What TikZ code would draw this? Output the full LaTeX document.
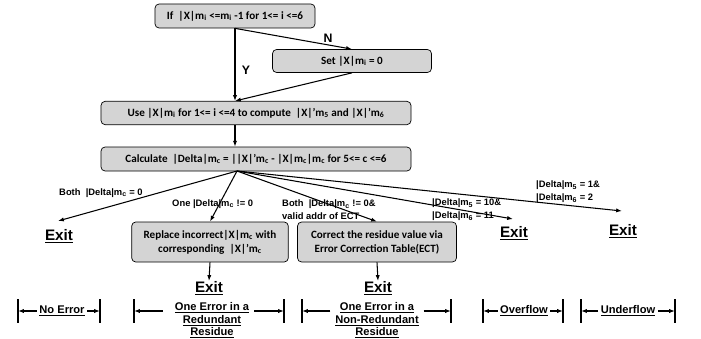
\documentclass[tikz,border=0pt]{standalone}
\usepackage{fontspec}
\setmainfont{Liberation Sans}
\newfontfamily\boxfont{Carlito}
\usepackage{tikz}
\usetikzlibrary{arrows.meta}
\definecolor{BoxGrey}{HTML}{D4D4D4}
\newcommand\lo[1]{\textsubscript{#1}}

\begin{document}
\begin{tikzpicture}[x=0.03cm,y=-0.03cm,>={Latex[length=5pt,width=3.6pt]},
    stepbox/.style={draw,line width=0.6pt,rounded corners=3.5pt,fill=BoxGrey,align=center,inner sep=0pt,
      font=\boxfont\bfseries\fontsize{9.5}{12}\selectfont},
    lbl/.style={anchor=west,align=left,inner sep=0pt,font=\bfseries\fontsize{8}{11}\selectfont},
    exitlbl/.style={inner sep=0pt,font=\bfseries\fontsize{13}{15}\selectfont},
    caselbl/.style={align=center,inner sep=2pt,font=\bfseries\fontsize{9.5}{10.8}\selectfont},
    flow/.style={->,line width=0.9pt}]
    \useasboundingbox (0,0) rectangle (701,339);
    % decision and processing boxes
    \node[stepbox,minimum width=4.8cm,minimum height=0.72cm] (check) at (235,16) {If~ |X|m\lo{i} <=m\lo{i} -1 for 1<= i <=6};
    \node[stepbox,minimum width=4.77cm,minimum height=0.69cm] (reset) at (352,61) {Set |X|m\lo{i} = 0};
    \node[stepbox,minimum width=9.3cm,minimum height=0.7cm] (compute) at (256,113) {Use |X|m\lo{i} for 1<= i <=4 to compute~ |X|’m\lo{5} and |X|’m\lo{6}};
    \node[stepbox,minimum width=9.3cm,minimum height=0.72cm] (delta) at (256,159) {Calculate~ |Delta|m\lo{c} = ||X|’m\lo{c} - |X|m\lo{c}|m\lo{c} for 5<= c <=6};
    \node[stepbox,minimum width=4.7cm,minimum height=1.2cm] (replace) at (210,242) {Replace incorrect|X|m\lo{c} with\\corresponding~ |X|’m\lo{c}};
    \node[stepbox,minimum width=4.77cm,minimum height=1.2cm] (correct) at (377,242) {Correct the residue value via\\Error Correction Table(ECT)};
    % exits
    \node[exitlbl] (exitA) at (59,236) {\underline{Exit}};
    \node[exitlbl] (exitB) at (209,288) {\underline{Exit}};
    \node[exitlbl] (exitC) at (378,288) {\underline{Exit}};
    \node[exitlbl] (exitD) at (514,233) {\underline{Exit}};
    \node[exitlbl] (exitE) at (623,231) {\underline{Exit}};
    \coordinate (fan) at (237,171);
    \coordinate (tipA) at (58,221);
    \coordinate (tipD) at (513,219);
    \coordinate (tipE) at (622,211);
    % top part
    \draw[flow] (check.south) -- (check.south |- compute.north);
    \draw[flow] (check.south) -- (reset.north);
    \draw[flow] (reset.south) -- (check.south |- compute.north);
    \draw[flow] (check.south |- compute.south) -- (check.south |- delta.north);
    \node[font=\bfseries\fontsize{10.5}{12}\selectfont] (yes) at (246,70) {Y};
    \node[font=\bfseries\fontsize{10.5}{12}\selectfont] (no) at (328,38) {N};
    % the five cases
    \draw[flow] (fan) -- (tipA);
    \draw[flow] (fan) -- (replace.north);
    \draw[flow] (fan) -- (correct.north);
    \draw[flow] (fan) -- (tipD);
    \draw[flow] (fan) -- (tipE);
    \draw[flow] (replace.south) -- (exitB.north);
    \draw[flow] (correct.south) -- (exitC.north);
    \node[lbl] (caseA) at (59,193) {Both~ |Delta|m\lo{c} = 0};
    \node[lbl] (caseB) at (172,204) {One |Delta|m\lo{c} != 0};
    \node[lbl] (caseC) at (282,210) {Both~ |Delta|m\lo{c} != 0\&\\valid addr of ECT};
    \node[lbl] (caseD) at (432,210) {|Delta|m\lo{5} = 10\&\\|Delta|m\lo{6} = 11};
    \node[lbl] (caseE) at (536,192) {|Delta|m\lo{5} = 1\&\\|Delta|m\lo{6} = 2};
    % ranges at the bottom
    \coordinate (row) at (0,311);
    \foreach \bx in {18,100,134,284,302,451,483,563,581,675}
      \draw[line width=1.3pt] (\bx,299) -- (\bx,323);
    \node[caselbl] (noerr) at (62,311) {\underline{No Error}};
    \node[caselbl,anchor=north] (redund) at (212,300) {\underline{One Error in a}\\\underline{Redundant}\\\underline{Residue}};
    \node[caselbl,anchor=north] (nonred) at (377,300) {\underline{One Error in a}\\\underline{Non-Redundant}\\\underline{Residue}};
    \node[caselbl] (over) at (524,311) {\underline{Overflow}};
    \node[caselbl] (under) at (628,311) {\underline{Underflow}};
    \draw[flow] (noerr.west) -- (18,311);
    \draw[flow] (noerr.east) -- (100,311);
    \draw[flow] ([xshift=-8pt]redund.west |- row) -- (134,311);
    \draw[flow] ([xshift=2pt]redund.east |- row) -- (284,311);
    \draw[flow] ([xshift=-2pt]nonred.west |- row) -- (302,311);
    \draw[flow] ([xshift=2pt]nonred.east |- row) -- (451,311);
    \draw[flow] (over.west) -- (483,311);
    \draw[flow] (over.east) -- (563,311);
    \draw[flow] (under.west) -- (581,311);
    \draw[flow] (under.east) -- (675,311);
  \end{tikzpicture}
\end{document}
